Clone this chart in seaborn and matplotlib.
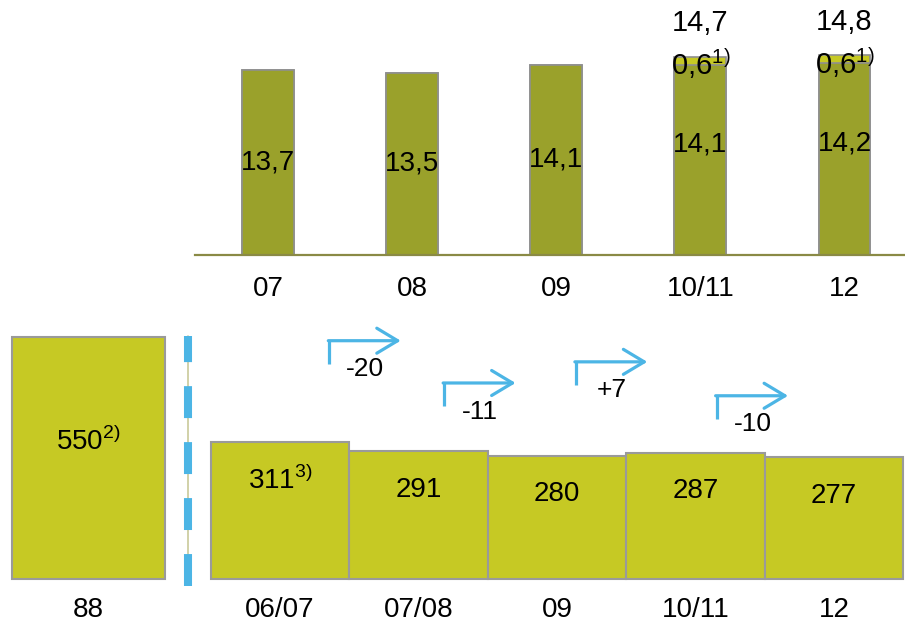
import matplotlib
matplotlib.use("Agg")
import matplotlib.pyplot as plt
from matplotlib.lines import Line2D
import seaborn as sns
import pandas as pd

# upper panel: stacked values per period
top_periods = ["07", "08", "09", "10/11", "12"]
top_base = [13.7, 13.5, 14.1, 14.1, 14.2]
top_extra = [0.0, 0.0, 0.0, 0.6, 0.6]
extra_note = "1)"

# lower panel: reference year and following periods
ref_period = ["88"]
ref_value = [550]
ref_note = "2)"
low_periods = ["06/07", "07/08", "09", "10/11", "12"]
low_values = [311, 291, 280, 287, 277]
low_notes = ["3)", "", "", "", ""]

DARK = "#9aa12b"
LIGHT = "#c6c924"
EDGE = "#8f8f8f"
BLUE = "#4cb5e5"
FS = 20

sns.set_theme(style="white")
plt.rcParams["font.family"] = ["Liberation Sans", "DejaVu Sans"]
plt.rcParams["lines.scale_dashes"] = False
plt.rcParams["text.color"] = "black"
plt.rcParams["xtick.color"] = "black"
plt.rcParams["xtick.labelcolor"] = "black"


def fmt(v):
    return f"{v:.1f}".replace(".", ",")


def sup(note):
    return r"$^{\mathregular{" + note + "}}$" if note else ""


W, H = 905, 627
fig = plt.figure(figsize=(W / 100, H / 100), dpi=100)

# ---- upper chart
ax_top = fig.add_axes([195 / W, 372 / H, 710 / W, 255 / H])
top = pd.DataFrame({"period": top_periods, "base": top_base, "extra": top_extra})
top["total"] = top["base"] + top["extra"]
sns.barplot(data=top, x="period", y="total", color=LIGHT, saturation=1,
            width=0.36, edgecolor=EDGE, linewidth=1.2, ax=ax_top)
sns.barplot(data=top, x="period", y="base", color=DARK, saturation=1,
            width=0.36, edgecolor=EDGE, linewidth=1.2, ax=ax_top)
ax_top.set_xlim(-0.507, 4.42)
ax_top.set_ylim(0, 18.9)
ax_top.set_xlabel("")
ax_top.set_ylabel("")
ax_top.set_yticks([])
for s in ["top", "left", "right"]:
    ax_top.spines[s].set_visible(False)
ax_top.spines["bottom"].set_color("#8a8a45")
ax_top.spines["bottom"].set_linewidth(1.6)
ax_top.tick_params(axis="x", length=0, pad=15, labelsize=FS)

for i, row in top.iterrows():
    frac = 0.5 if row["extra"] == 0 else 0.58
    ax_top.text(i, row["base"] * frac, fmt(row["base"]), ha="center",
                va="center", fontsize=FS)
    if row["extra"] > 0:
        ax_top.text(i, row["total"] + 2.5, fmt(row["total"]), ha="center",
                    va="center", fontsize=21)
        ax_top.text(i, row["total"] - 0.55, fmt(row["extra"]) + sup(extra_note),
                    ha="center", va="center", fontsize=21)

# ---- lower chart, reference bar
ax_ref = fig.add_axes([10 / W, 48 / H, 157 / W, 259 / H])
sns.barplot(x=ref_period, y=ref_value, color=LIGHT, saturation=1, width=1,
            edgecolor="#9a9a9a", linewidth=1.5, ax=ax_ref)
ax_ref.set_xlim(-0.51, 0.51)
ax_ref.set_ylim(0, 588)
ax_ref.text(0, ref_value[0] * 0.57, f"{ref_value[0]}" + sup(ref_note),
            ha="center", va="center", fontsize=FS)

# ---- lower chart, periods
ax_low = fig.add_axes([210 / W, 48 / H, 694 / W, 259 / H])
sns.barplot(x=low_periods, y=low_values, color=LIGHT, saturation=1, width=1,
            edgecolor="#9a9a9a", linewidth=1.5, ax=ax_low)
ax_low.set_xlim(-0.505, 4.505)
ax_low.set_ylim(0, 588)
for i, (v, n) in enumerate(zip(low_values, low_notes)):
    ax_low.text(i, v - 88, f"{v}" + sup(n), ha="center", va="center", fontsize=FS)

for ax in (ax_ref, ax_low):
    ax.set_yticks([])
    for s in ax.spines.values():
        s.set_visible(False)
    ax.tick_params(axis="x", length=0, pad=13, labelsize=FS)
    for p in ax.patches:
        p.set_clip_on(False)

# change arrows between consecutive periods
arrow_start = [0.357, 0.186, 0.137, 0.153]   # offset from left bar centre
arrow_level = [541, 445, 493, 416]
for i in range(len(low_values) - 1):
    delta = low_values[i + 1] - low_values[i]
    x0 = i + arrow_start[i]
    x1 = x0 + 0.515
    y = arrow_level[i]
    ax_low.plot([x0, x0], [y - 52, y], color=BLUE, lw=2.3,
                solid_capstyle="butt", clip_on=False)
    ax_low.annotate("", xy=(x1, y), xytext=(x0 - 0.008, y),
                    arrowprops=dict(arrowstyle="->,head_length=0.75,head_width=0.45",
                                    color=BLUE, lw=2.3, mutation_scale=20,
                                    shrinkA=0, shrinkB=0),
                    annotation_clip=False)
    ax_low.text(x0 + 0.26, y - 65, f"{delta:+d}", ha="center", va="center",
                fontsize=19)

# dashed divider between reference year and periods
xd = 188 / W
fig.add_artist(Line2D([xd, xd], [42 / H, 291 / H], transform=fig.transFigure,
                      color="#c9c99a", lw=1.2))
fig.add_artist(Line2D([xd, xd], [41 / H, 291 / H], transform=fig.transFigure,
                      color=BLUE, lw=5.8, linestyle=(0, (23, 17.3)),
                      solid_capstyle="butt", dash_capstyle="butt"))

fig.savefig("out.png", dpi=100)
